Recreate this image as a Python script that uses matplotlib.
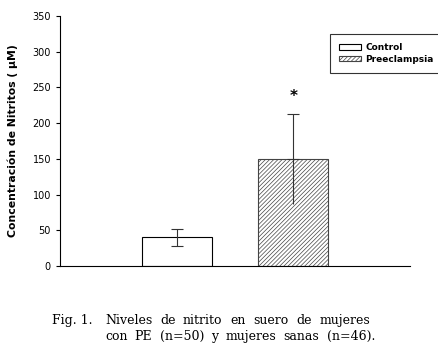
import matplotlib.pyplot as plt

# data
groups = ['Control', 'Preeclampsia']
means = [40, 150]
errors = [12, 63]
star_y = 237
caption_lines = ['Niveles de nitrito en suero de mujeres',
                 'con PE (n=50) y mujeres sanas (n=46).']

plt.rcParams['hatch.linewidth'] = 0.5
plt.rcParams['hatch.color'] = '#555555'

fig = plt.figure(figsize=(4.39, 3.48), dpi=100)
ax = fig.add_axes([60 / 439, 1 - 266 / 348, 350 / 439, 250 / 348])

b1 = ax.bar(1, means[0], width=0.6, color='white', edgecolor='black', linewidth=0.8, label=groups[0])
b2 = ax.bar(2, means[1], width=0.6, color='white', edgecolor='#444444', linewidth=0.8,
            hatch='////////', label=groups[1])
err_style = dict(fmt='none', ecolor='#333333', elinewidth=0.8, capthick=0.8)
ax.errorbar(1, means[0], yerr=errors[0], capsize=4, **err_style)
# the lower whisker of the hatched bar has no visible cap in the reference
ax.errorbar(2, means[1], yerr=[[0], [errors[1]]], capsize=4, **err_style)
ax.errorbar(2, means[1], yerr=[[errors[1]], [0]], capsize=0, **err_style)
ax.text(2, star_y, '*', ha='center', va='center', fontsize=11, fontweight='bold')

ax.set_xlim(0, 3)
ax.set_ylim(0, 350)
ax.set_yticks(range(0, 351, 50))
ax.set_xticks([])
for s in ['top', 'right']:
    ax.spines[s].set_visible(False)
ax.spines['left'].set_linewidth(0.8)
ax.spines['bottom'].set_linewidth(0.8)
ax.tick_params(axis='y', labelsize=7, length=3, width=0.8)
ax.set_ylabel('Concentración de Nitritos ( µM)', fontsize=7.8, fontweight='bold', labelpad=10)

leg = fig.legend(handles=[b1, b2], loc='upper left', bbox_to_anchor=(330 / 439, 1 - 34 / 348),
                 frameon=True, fancybox=False, edgecolor='black',
                 handlelength=2.4, handleheight=0.6, handletextpad=0.5, borderpad=1.0,
                 borderaxespad=0, labelspacing=0.3, prop={'weight': 'bold', 'size': 6.5})
leg.get_frame().set_linewidth(0.8)

# caption, words spread out to the justified width of the reference
cap_font = dict(family='DejaVu Serif', fontsize=9, va='baseline')
fig.text(52 / 439, 1 - 324 / 348, 'Fig. 1.', **cap_font)
renderer = fig.canvas.get_renderer()
for line, y_px, right_px in zip(caption_lines, [324, 340], [370, 375]):
    words = line.split(' ')
    texts = [fig.text(0, 1 - y_px / 348, w, **cap_font) for w in words]
    widths = [t.get_window_extent(renderer).width for t in texts]
    gap = (right_px - 105 - sum(widths)) / (len(words) - 1)
    x = 105
    for t, w in zip(texts, widths):
        t.set_x(x / 439)
        x += w + gap

fig.savefig('out.png', dpi=100)
